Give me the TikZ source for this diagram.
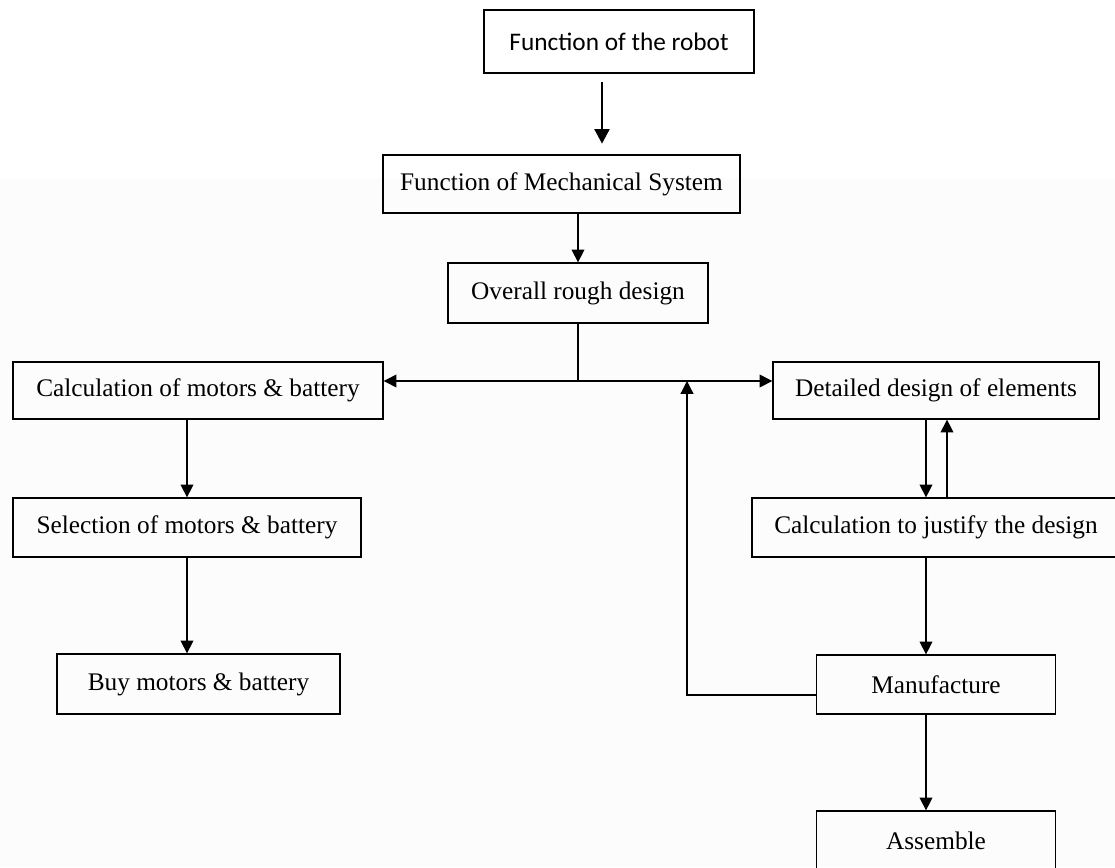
\documentclass[tikz,border=0pt]{standalone}
\usepackage{fontspec}
\setmainfont{Liberation Serif}
\newfontfamily\calibri{Carlito}
\usetikzlibrary{arrows.meta}
\definecolor{pastegray}{RGB}{252,252,252}

\begin{document}
\begin{tikzpicture}[x=0.025cm, y=-0.025cm,
    box/.style = {draw, line width=0.9pt, inner sep=0pt, font=\fontsize{18}{21}\selectfont},
    flow/.style = {-{Triangle[length=3.2mm, width=3.2mm]}, line width=0.9pt}]
  \useasboundingbox (0,0) rectangle (1115,867);
  \fill[pastegray] (0,178) rectangle (1115,867);

  \node[box, minimum width=6.75cm, minimum height=1.575cm, font=\calibri\fontsize{18}{21}\selectfont] (robot) at (619,41.5) {Function of the robot};
  \node[box, minimum width=8.925cm, minimum height=1.45cm] (mech) at (561.5,184) {Function of Mechanical System};
  \node[box, minimum width=6.5cm, minimum height=1.5cm] (rough) at (578,293) {Overall rough design};

  \node[box, minimum width=9.25cm, minimum height=1.425cm] (calcmot) at (198,390.5) {Calculation of motors \& battery};
  \node[box, minimum width=8.7cm, minimum height=1.475cm] (selmot) at (187,527.5) {Selection of motors \& battery};
  \node[box, minimum width=7.075cm, minimum height=1.5cm] (buymot) at (198.5,684) {Buy motors \& battery};

  \node[box, minimum width=8.15cm, minimum height=1.425cm] (detail) at (936,390.5) {Detailed design of elements};
  \node[box, minimum width=9.2cm, minimum height=1.475cm] (justify) at (936,527.5) {Calculation to justify the design};
  \node[box, minimum width=5.975cm, minimum height=1.475cm] (manuf) at (936,684.5) {Manufacture};
  \node[box, minimum width=5.975cm, minimum height=1.475cm] (assem) at (936,840.5) {Assemble};

  \coordinate (rtip) at ([xshift=-4.25mm]robot.south);
  \coordinate (hub) at (578,381);
  \coordinate (back) at (687,381);

  \draw[flow, -{Triangle[length=3.6mm, width=3.8mm]}, shorten <=0.22cm, shorten >=0.27cm] (rtip) -- (rtip |- mech.north);
  \draw[flow] (rough.north |- mech.south) -- (rough.north);
  \draw[line width=0.9pt] (rough.south) -- (hub);
  \draw[flow] (hub) -- (hub -| calcmot.east);
  \draw[flow] (hub) -- (hub -| detail.west);

  \draw[flow] (selmot.north |- calcmot.south) -- (selmot.north);
  \draw[flow] (selmot.south) -- (selmot.south |- buymot.north);

  \draw[flow] ([xshift=-2.5mm]detail.south) -- ([xshift=-2.5mm]justify.north);
  \draw[flow] ([xshift=2.75mm]justify.north) -- ([xshift=2.75mm]detail.south);
  \draw[flow] ([xshift=-2.5mm]justify.south) -- ([xshift=-2.5mm]manuf.north);
  \draw[flow] ([xshift=-2.5mm]manuf.south) -- ([xshift=-2.5mm]assem.north);
  \draw[flow] ([yshift=-2.6mm]manuf.west) -| (back);
\end{tikzpicture}
\end{document}
